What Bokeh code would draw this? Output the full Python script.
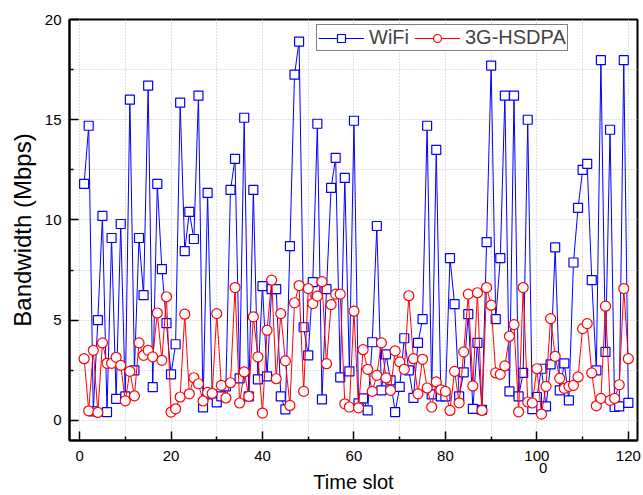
from bokeh.plotting import figure
from bokeh.models import (Range1d, FixedTicker, Legend, LegendItem, LinearAxis,
                          PrintfTickFormatter)
from bokeh.embed import file_html
from bokeh.resources import INLINE

slots = list(range(1, 121))
wifi = [11.8, 14.7, 0.45, 5.0, 10.2, 0.42, 9.1, 1.08, 9.8, 1.2,
        16.0, 2.5, 9.1, 6.25, 16.7, 1.66, 11.8, 7.55, 4.85, 2.3,
        3.8, 15.85, 8.45, 10.4, 9.05, 16.2, 0.65, 11.35, 1.3, 0.9,
        1.2, 1.7, 11.5, 13.05, 2.1, 15.1, 1.2, 11.5, 2.05, 6.7,
        2.2, 6.55, 6.55, 1.2, 0.55, 8.7, 17.25, 18.9, 4.65, 3.25,
        6.9, 14.8, 1.05, 6.55, 11.6, 13.1, 2.15, 12.1, 2.45, 14.95,
        0.85, 1.1, 0.5, 3.9, 9.7, 1.5, 3.3, 2.0, 0.42, 1.67,
        4.1, 2.5, 1.13, 3.87, 5.05, 14.7, 1.3, 13.5, 1.2, 1.2,
        8.1, 5.8, 1.2, 2.4, 5.3, 0.58, 3.87, 0.53, 8.9, 17.7,
        5.05, 8.1, 16.2, 1.45, 16.2, 1.2, 2.37, 15.0, 0.57, 1.17,
        2.58, 0.7, 2.8, 8.63, 1.5, 2.85, 1.0, 7.88, 10.6, 12.5,
        12.8, 7.0, 2.5, 17.97, 3.42, 14.5, 0.67, 0.7, 17.97, 0.88]
hsdpa = [3.08, 0.48, 3.5, 0.4, 3.87, 2.85, 2.85, 3.15, 2.75, 0.98,
         2.45, 1.23, 3.87, 3.25, 3.5, 3.17, 5.36, 3.0, 6.17, 0.42,
         0.58, 1.17, 5.3, 1.33, 2.13, 1.83, 0.97, 1.4, 1.35, 5.33,
         1.75, 1.12, 1.88, 6.63, 0.87, 2.42, 1.2, 5.17, 3.17, 0.37,
         4.5, 7.0, 2.08, 5.33, 2.97, 0.75, 5.87, 6.73, 1.45, 6.58,
         5.83, 6.2, 6.92, 2.83, 5.78, 6.3, 6.3, 0.83, 0.67, 5.45,
         0.63, 3.53, 2.55, 1.45, 2.25, 3.87, 2.12, 1.5, 3.47, 2.92,
         2.55, 6.22, 3.08, 1.33, 3.05, 1.62, 0.67, 1.92, 1.53, 1.45,
         0.5, 2.45, 0.88, 3.42, 6.3, 1.72, 6.37, 0.5, 6.63, 5.75,
         2.37, 2.3, 2.72, 4.2, 4.78, 0.43, 6.63, 0.92, 0.87, 2.58,
         0.32, 1.7, 5.08, 3.2, 2.1, 1.6, 1.7, 1.75, 2.17, 4.58,
         4.83, 2.37, 0.73, 1.1, 5.7, 1.0, 1.1, 1.78, 6.58, 3.08]
x_ticks = [0, 20, 40, 60, 80, 100, 120]
y_ticks = [0, 5, 10, 15, 20]
stray_tick = [101.4]   # a lone "0" printed under the 100 label in the original

FONT = "Liberation Sans"

p = figure(width=643, height=495, output_backend="svg", toolbar_location=None,
           x_range=Range1d(-2.2, 122.0), y_range=Range1d(-1.0, 20.0),
           min_border_left=69, min_border_right=6, min_border_top=19, min_border_bottom=54)
p.outline_line_color = "black"
p.outline_line_width = 2

# grid
p.xgrid.ticker = FixedTicker(ticks=list(range(0, 121, 10)))
p.ygrid.ticker = FixedTicker(ticks=[i * 2.5 for i in range(0, 9)])
for g in (p.xgrid, p.ygrid):
    g.grid_line_color = "#c0c0c0"
    g.grid_line_dash = "1 2"
    g.grid_line_width = 1

p.xaxis.ticker = FixedTicker(ticks=x_ticks, minor_ticks=list(range(10, 121, 20)))
p.yaxis.ticker = FixedTicker(ticks=y_ticks, minor_ticks=[2.5, 7.5, 12.5, 17.5])

for ax in (p.xaxis[0], p.yaxis[0]):
    ax.axis_line_color = "black"
    ax.axis_line_width = 2
    ax.major_tick_line_width = 1.5
    ax.minor_tick_line_width = 1.5
    ax.major_tick_in = 9
    ax.major_tick_out = 0
    ax.minor_tick_in = 4
    ax.minor_tick_out = 0
    ax.major_label_text_font = FONT
    ax.major_label_text_font_size = "15px"
    ax.major_label_text_color = "black"
    ax.axis_label_text_font = FONT
    ax.axis_label_text_font_style = "normal"
    ax.axis_label_text_color = "black"

p.xaxis[0].major_label_standoff = 10
p.yaxis[0].major_label_standoff = 8
p.yaxis[0].axis_label = "Bandwidth (Mbps)"
p.yaxis[0].axis_label_text_font_size = "24px"
p.yaxis[0].axis_label_standoff = 6

# second bottom axis: carries the stray "0" and the x-axis title
ax2 = LinearAxis(ticker=FixedTicker(ticks=stray_tick, minor_ticks=[]),
                 formatter=PrintfTickFormatter(format="0"),
                 axis_line_color=None, major_tick_line_color=None,
                 minor_tick_line_color=None, major_tick_in=0, major_tick_out=0,
                 minor_tick_in=0, minor_tick_out=0,
                 major_label_standoff=-1, major_label_text_font=FONT,
                 major_label_text_font_size="15px", major_label_text_color="black",
                 axis_label="Time slot", axis_label_text_font=FONT,
                 axis_label_text_font_size="20px", axis_label_text_font_style="normal",
                 axis_label_text_color="black", axis_label_standoff=-5)
p.add_layout(ax2, "below")

l1 = p.line(slots, wifi, line_color="#0000ff", line_width=1)
s1 = p.scatter(slots, wifi, marker="square", size=9, line_color="#0000ff",
               fill_color="white", line_width=1.2)
l2 = p.line(slots, hsdpa, line_color="#ff0000", line_width=1)
s2 = p.scatter(slots, hsdpa, marker="circle", size=10, line_color="#ff0000",
               fill_color="white", line_width=1.2)

legend = Legend(items=[LegendItem(label="WiFi", renderers=[l1, s1]),
                       LegendItem(label="3G-HSDPA", renderers=[l2, s2])],
                orientation="horizontal", location=(247, 389),
                label_text_font=FONT, label_text_font_size="20px",
                glyph_width=46, glyph_height=20, label_standoff=5, spacing=5,
                padding=1, margin=0, border_line_color="black", border_line_width=1,
                background_fill_alpha=1)
p.add_layout(legend)

open("out.html", "w").write(file_html(p, INLINE))
